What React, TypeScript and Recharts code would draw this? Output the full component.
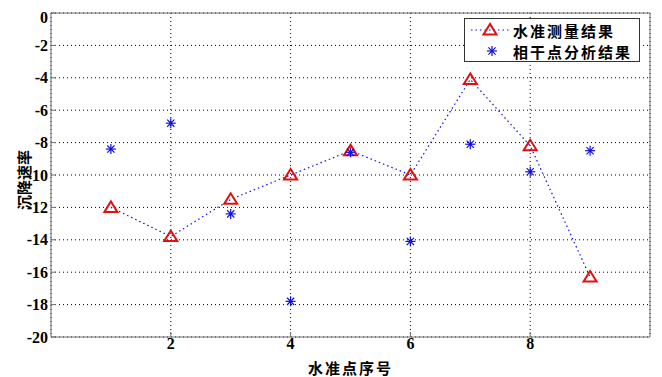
import {
  ComposedChart,
  Line,
  Scatter,
  XAxis,
  YAxis,
  CartesianGrid,
  ReferenceLine,
} from "recharts";

const pointIds = [1, 2, 3, 4, 5, 6, 7, 8, 9];
const levelRates = [-12, -13.8, -11.5, -10, -8.5, -10, -4.1, -8.2, -16.3];
const coherentRates = [-8.4, -6.8, -12.4, -17.8, -8.6, -14.1, -8.1, -9.8, -8.5];
const xTicks = [2, 4, 6, 8];
const yTicks = [-20, -18, -16, -14, -12, -10, -8, -6, -4, -2, 0];

const levelName = "水准测量结果";
const coherentName = "相干点分析结果";

const data = pointIds.map((x, i) => ({
  x,
  level: levelRates[i],
  coherent: coherentRates[i],
}));

const RED = "#e01010";
const BLUE = "#1010e0";
const AXIS = "#6e6e6e";
const serifFont = "'Liberation Serif', 'Times New Roman', serif";
const cjkFont = "'Noto Sans CJK SC', sans-serif";

function Triangle({ cx, cy }: any) {
  if (cx == null || cy == null) return null;
  return (
    <polygon
      points={`${cx},${cy - 6} ${cx - 6.5},${cy + 4.5} ${cx + 6.5},${cy + 4.5}`}
      fill="none"
      stroke={RED}
      strokeWidth={2}
    />
  );
}

function Asterisk({ cx, cy }: any) {
  if (cx == null || cy == null) return null;
  const r = 5;
  const d = r * 0.72;
  return (
    <g stroke={BLUE} strokeWidth={1.2}>
      <line x1={cx} y1={cy - r} x2={cx} y2={cy + r} />
      <line x1={cx - r} y1={cy} x2={cx + r} y2={cy} />
      <line x1={cx - d} y1={cy - d} x2={cx + d} y2={cy + d} />
      <line x1={cx - d} y1={cy + d} x2={cx + d} y2={cy - d} />
      <circle cx={cx} cy={cy} r={1.3} fill={BLUE} stroke="none" />
    </g>
  );
}

function XTick({ x, y, payload }: any) {
  return (
    <text
      x={x}
      y={y + 11}
      textAnchor="middle"
      dominantBaseline="central"
      style={{ fontFamily: serifFont, fontWeight: 700, fontSize: 16, fill: "#000" }}
    >
      {payload.value}
    </text>
  );
}

function YTick({ x, y, payload }: any) {
  return (
    <text
      x={x - 8}
      y={y}
      textAnchor="end"
      dominantBaseline="central"
      style={{ fontFamily: serifFont, fontWeight: 700, fontSize: 16, fill: "#000" }}
    >
      {payload.value}
    </text>
  );
}

function YTitle({ viewBox }: any) {
  const cx = viewBox.x + 15;
  const cy = viewBox.y + viewBox.height / 2 + 5;
  return (
    <text
      x={cx}
      y={cy}
      transform={`rotate(-90, ${cx}, ${cy})`}
      textAnchor="middle"
      dominantBaseline="central"
      fontFamily={cjkFont}
      fontWeight={700}
      fontSize={15}
      fill="#000"
    >
      沉降速率
    </text>
  );
}

function XTitle({ viewBox }: any) {
  const cx = viewBox.x + viewBox.width / 2;
  const cy = viewBox.y + 30;
  return (
    <text
      x={cx}
      y={cy}
      textAnchor="middle"
      dominantBaseline="central"
      fontFamily={cjkFont}
      fontWeight={700}
      fontSize={15}
      letterSpacing={2}
      fill="#000"
    >
      水准点序号
    </text>
  );
}

function LegendBox() {
  const textStyle = {
    fontFamily: cjkFont,
    fontWeight: 700,
    fontSize: 15,
    letterSpacing: 2,
    fill: "#000",
  };
  return (
    <div
      style={{
        position: "absolute",
        left: 456,
        top: 10,
        width: 176,
        height: 44,
        border: "1px solid #333",
        background: "#fff",
        boxSizing: "border-box",
      }}
    >
      <svg width={174} height={42} style={{ display: "block" }}>
        <line
          x1={6}
          x2={44}
          y1={11}
          y2={11}
          stroke={BLUE}
          strokeWidth={1}
          strokeDasharray="1.5 3"
        />
        <Triangle cx={25} cy={11} />
        <Asterisk cx={27} cy={32} />
        <text x={48} y={11} dominantBaseline="central" style={textStyle}>
          {levelName}
        </text>
        <text x={48} y={32} dominantBaseline="central" style={textStyle}>
          {coherentName}
        </text>
      </svg>
    </div>
  );
}

export default function App() {
  return (
    <div style={{ position: "relative", width: 654, height: 369 }}>
      <ComposedChart
        width={654}
        height={369}
        data={data}
        margin={{ top: 5, right: 12, left: 0, bottom: 0 }}
      >
        <CartesianGrid stroke="#000" strokeDasharray="1 3" strokeWidth={1} />
        <XAxis
          dataKey="x"
          type="number"
          domain={[0, 10]}
          ticks={xTicks}
          height={40}
          stroke={AXIS}
          tickSize={-5}
          tickMargin={0}
          tick={<XTick />}
          label={<XTitle />}
        />
        <YAxis
          type="number"
          domain={[-20, 0]}
          ticks={yTicks}
          width={43}
          stroke={AXIS}
          tickSize={-5}
          tickMargin={0}
          tick={<YTick />}
          label={<YTitle />}
        />
        <ReferenceLine y={0} stroke={AXIS} />
        <ReferenceLine x={10} stroke={AXIS} />
        <Line
          dataKey="level"
          name={levelName}
          stroke={BLUE}
          strokeWidth={1.2}
          strokeDasharray="1.5 3"
          dot={<Triangle />}
          activeDot={false}
          isAnimationActive={false}
        />
        <Scatter
          dataKey="coherent"
          name={coherentName}
          shape={<Asterisk />}
          isAnimationActive={false}
        />
      </ComposedChart>
      <LegendBox />
    </div>
  );
}
